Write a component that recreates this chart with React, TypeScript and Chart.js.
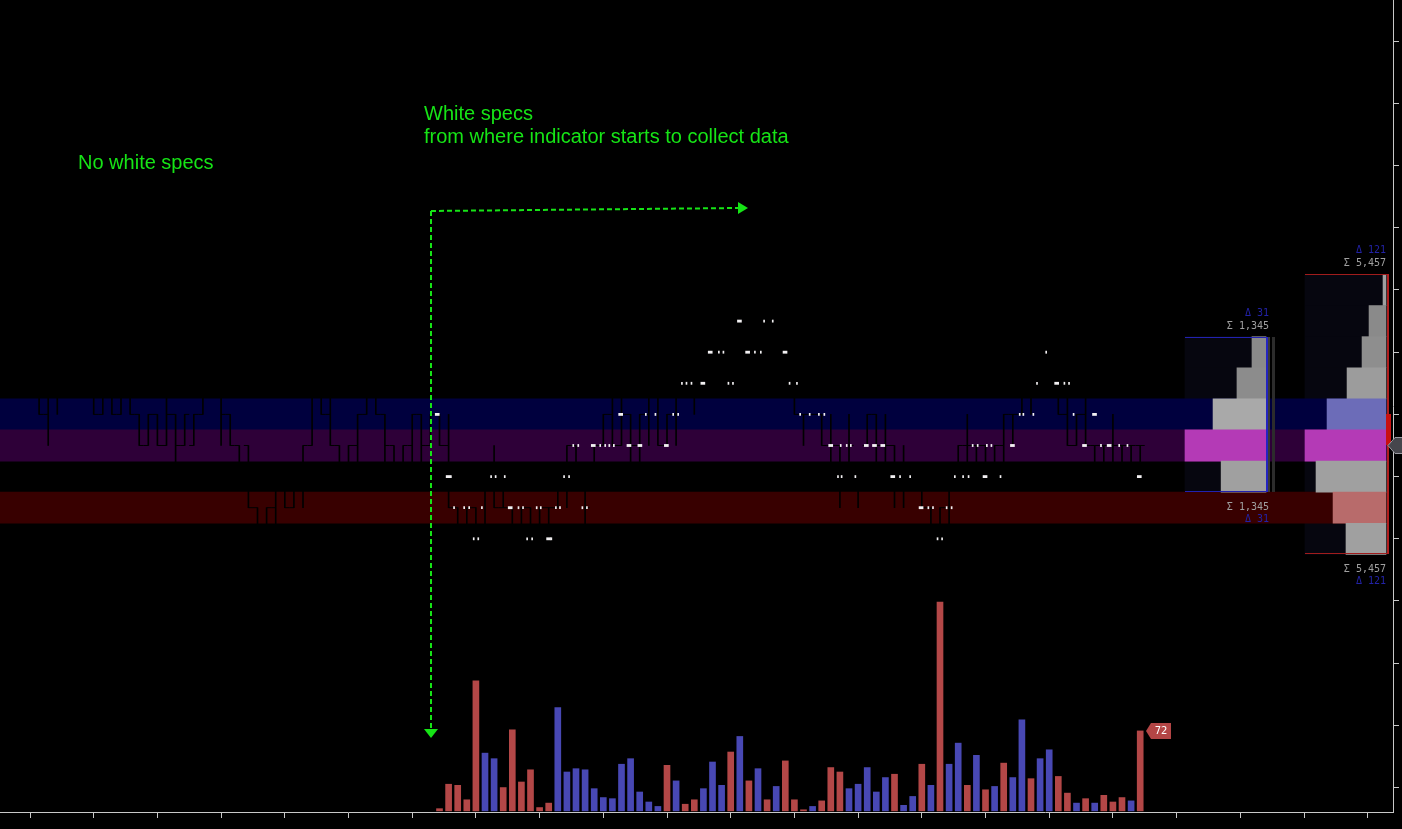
import React, { useEffect, useRef } from 'react';
import { Chart, registerables } from 'chart.js';

Chart.register(...registerables);

const W = 1402;
const H = 829;

// ---- time axis (bar slots) ----
const X_MIN = -3.297;
const X_MAX = 149.78;
const X_TICKS = [0, 7, 14, 21, 28, 35, 42, 49, 56, 63, 70, 77, 84, 91, 98, 105, 112, 119, 126, 133, 140, 147];

// ---- price axis (price rows, 0 = POC row) ----
const Y_MIN = -11.785;
const Y_MAX = 14.325;
const Y_TICKS = [-11, -9, -7, -5, -3, -1, 1, 3, 5, 7, 9, 11, 13];

// ---- price bars (OHLC, in price rows), first bar at slot 1 ----
const BAR_START = 1;
const HIGH = [
  3, 3, 3, 3, 3, 3, 2, 2, 2, 2,
  2, 1, 1, 1, 2, 1, 1, 1, 2, 3,
  2, 1, 0, 0, -2, -2, -1, -1, -1, 0,
  2, 2, 2, 0, 0, 1, 2, 2, 1, 0,
  0, 1, 1, 1, 1, 1, -2, -2, -2, -1,
  0, -1, -2, -2, -2, -2, -2, -1, 0, 0,
  -1, 0, 1, 2, 2, 1, 1, 2, 2, 1,
  2, 3, 2, 3, 3, 3, 4, 4, 3, 4,
  4, 3, 3, 2, 1, 1, 1, 1, 0, 1,
  -1, 1, 1, 1, 0, 0, -1, -1, -2, -2,
  -1, 0, 1, 0, 0, 0, 1, 1, 3, 3,
  3, 3, 2, 2, 1, 2, 0, 0, 1, 0,
  0, 0,
];
const LOW = [
  1, 0, 1, 2, 2, 2, 1, 1, 1, 1,
  1, 0, 0, 0, 0, -1, 0, 0, 1, 2,
  0, 0, -1, -2, -3, -3, -3, -2, -2, -2,
  0, 1, 0, -1, -1, -1, 1, 1, -1, -1,
  -1, -1, -1, 0, 0, -2, -3, -3, -3, -3,
  -2, -2, -3, -3, -3, -3, -3, -2, -2, -1,
  -3, -1, 0, 0, 0, -1, -1, 0, 0, 0,
  0, 2, 1, 2, 2, 2, 3, 3, 2, 3,
  3, 2, 2, 1, 0, 1, 0, -1, -2, -1,
  -2, 0, -1, -1, -2, -2, -1, -2, -3, -3,
  -3, -1, -1, -1, -1, -1, -1, 0, 1, 1,
  2, 2, 1, 0, 0, 0, -1, -1, -1, -1,
  -1, -1,
];
const OPEN = [
  2, 1, 2, 2, 3, 2, 2, 1, 2, 1,
  2, 1, 0, 1, 0, 1, 0, 0, 1, 2,
  2, 1, 0, 0, -2, -3, -2, -1, -2, -1,
  0, 2, 1, 0, -1, 0, 1, 2, 1, 0,
  -1, 0, 1, 0, 1, 0, -2, -3, -2, -3,
  -1, -2, -2, -3, -2, -3, -2, -2, -1, 0,
  -1, -1, 0, 1, 0, 1, 0, 1, 2, 0,
  1, 2, 2, 2, 3, 2, 3, 4, 3, 3,
  4, 3, 2, 2, 1, 1, 1, 0, 0, -1,
  -1, 0, 1, 0, 0, -1, -1, -1, -2, -3,
  -2, -1, 0, 0, 0, -1, 0, 1, 1, 2,
  3, 2, 2, 1, 0, 1, 0, 0, 0, 0,
  0, 0,
];
const CLOSE = [
  1, 2, 2, 3, 2, 2, 1, 2, 1, 2,
  1, 0, 1, 0, 1, 0, 1, 1, 2, 2,
  1, 0, -1, -2, -3, -2, -1, -2, -1, 0,
  2, 1, 0, -1, 0, 1, 2, 1, 0, -1,
  0, 1, 0, 1, 0, -2, -3, -2, -3, -1,
  -2, -2, -3, -2, -3, -2, -2, -1, 0, -1,
  -2, 0, 1, 0, 1, 0, 1, 2, 0, 1,
  2, 3, 2, 3, 2, 3, 4, 3, 3, 4,
  3, 2, 2, 1, 1, 1, 0, 0, -1, 0,
  -1, 1, 0, 0, -1, -1, -1, -2, -3, -2,
  -1, 0, 0, 0, -1, 0, 1, 1, 2, 3,
  2, 2, 1, 0, 1, 0, 0, 0, 0, 0,
  0, 0,
];

// ---- white specs [slot, price row] ----
const SPECS_WIDE = [
  [44.75, 1], [45.95, -1], [52.77, -2], [56.99, -3], [61.9, 0], [64.91, 1], [65.82, 0], [67.02, 0],
  [69.93, 0], [73.94, 2], [74.75, 3], [77.96, 4], [78.86, 3], [82.97, 3], [87.99, 0], [91.9, 0],
  [92.8, 0], [93.71, 0], [94.81, -1], [97.92, -2], [104.95, -1], [107.96, 0], [112.82, 2],
  [115.88, 0], [116.98, 1], [118.59, 0], [121.9, -1],
];
const SPECS_THIN = [
  [46.25, -1], [50.67, -1], [51.17, -1], [52.17, -1], [58.69, -1], [59.24, -1], [88.79, -1], [89.19, -1],
  [90.7, -1], [95.61, -1], [96.72, -1], [101.63, -1], [102.54, -1], [103.14, -1], [106.65, -1],
  [46.6, -2], [47.71, -2], [48.26, -2], [49.66, -2], [53.68, -2], [54.18, -2], [55.68, -2], [56.13, -2],
  [57.79, -2], [58.24, -2], [60.7, -2], [61.2, -2], [98.72, -2], [99.23, -2], [100.73, -2], [101.28, -2],
  [48.76, -3], [49.26, -3], [54.63, -3], [55.18, -3], [57.29, -3], [99.73, -3], [100.23, -3],
  [59.7, 0], [60.25, 0], [62.66, 0], [63.21, 0], [63.66, 0], [64.16, 0], [89.09, 0], [89.75, 0],
  [90.2, 0], [103.59, 0], [104.14, 0], [105.15, 0], [105.65, 0], [117.69, 0], [119.69, 0], [120.6, 0],
  [67.67, 1], [68.73, 1], [70.68, 1], [71.23, 1], [84.63, 1], [85.68, 1], [86.69, 1], [87.29, 1],
  [108.76, 1], [109.16, 1], [110.26, 1], [114.68, 1],
  [71.64, 2], [72.14, 2], [72.69, 2], [76.75, 2], [77.25, 2], [83.47, 2], [84.28, 2], [110.66, 2],
  [113.67, 2], [114.18, 2],
  [75.7, 3], [76.2, 3], [79.66, 3], [80.31, 3], [111.67, 3],
  [80.67, 4], [81.62, 4],
];

// ---- volume histogram, first bar at slot 45 ----
const VOL_START = 45;
const VOLUME = [
  2, 24, 23, 10, 117, 52, 47, 21, 73, 26, 37, 3, 7, 93, 35, 38, 37, 20, 12, 11,
  42, 47, 17, 8, 4, 41, 27, 6, 10, 20, 44, 23, 53, 67, 27, 38, 10, 22, 45, 10,
  1, 4, 9, 39, 35, 20, 24, 39, 17, 30, 33, 5, 13, 42, 23, 188, 42, 61, 23, 50,
  19, 22, 43, 30, 82, 29, 47, 55, 31, 16, 7, 11, 7, 14, 8, 12, 9, 72,
];
const VOL_SIDE = 'rrrrrbbrrrrrrbbbbbbbbbbbbrbrrbbbrbrbrbrrrbrrrbbbbbrbbrbrbbrbrbrbbrbbrrbrbrrrbr'.split('');

// ---- horizontal bands (VAH / POC / VAL) ----
const BAND_LEVELS = [1, 0, -2];
const BAND_COLORS = ['#00003e', '#2e0038', '#380000'];
const BAND_END = 149.0;

// ---- volume profiles ----
const BIG_LEVELS = [5, 4, 3, 2, 1, 0, -1, -2, -3];
const BIG_VOL = [42, 240, 339, 551, 834, 1146, 990, 749, 566];
const BIG_COLORS = ['#a0a0a0', '#8a8a8a', '#8e8e8e', '#9c9c9c', '#6c6cb8', '#b43ab6', '#a0a0a0', '#b86b6b', '#a0a0a0'];
const BIG_SUM = '5,457';
const BIG_DELTA = '121';

const SMALL_LEVELS = [3, 2, 1, 0, -1];
const SMALL_VOL = [85, 176, 321, 491, 272];
const SMALL_COLORS = ['#8a8a8a', '#8c8c8c', '#a9a9a9', '#b43ab6', '#a0a0a0'];
const SMALL_SUM = '1,345';
const SMALL_DELTA = '31';

// layout/style constants
const PLOT_W = 1393;
const BOX_PX = 81;
const BIG_GAP = 7;
const SMALL_GAP = 127;
const ROW_PX = 31.1;

const BIG_MAX = Math.max(...BIG_VOL);
const SMALL_MAX = Math.max(...SMALL_VOL);
const kBig = BIG_MAX / BOX_PX;
const kSmall = SMALL_MAX / BOX_PX;

const GREEN = 'rgb(22,228,22)';

const overlayPlugin = {
  id: 'overlay',
  afterDatasetsDraw(chart: any) {
    const { ctx } = chart;
    const sy = chart.scales.y;
    const sx = chart.scales.x;
    const sv = chart.scales.yv;
    const xb = chart.scales.xpBig;
    const xs = chart.scales.xpSmall;
    ctx.save();

    // big profile box
    const bL = Math.round(xb.getPixelForValue(BIG_MAX));
    const bR = Math.round(xb.getPixelForValue(0));
    const bT = Math.round(sy.getPixelForValue(Math.max(...BIG_LEVELS) + 0.5));
    const bB = Math.round(sy.getPixelForValue(Math.min(...BIG_LEVELS) - 0.5));
    ctx.strokeStyle = '#a01c1c';
    ctx.lineWidth = 1;
    ctx.beginPath();
    ctx.moveTo(bL, bT + 0.5);
    ctx.lineTo(bR + 3, bT + 0.5);
    ctx.moveTo(bL, bB - 0.5);
    ctx.lineTo(bR + 3, bB - 0.5);
    ctx.stroke();
    ctx.fillStyle = '#b01e1e';
    ctx.fillRect(bR + 1, bT, 2, bB - bT);
    // current bar marker
    ctx.fillStyle = '#c81010';
    ctx.fillRect(bR, Math.round(sy.getPixelForValue(1)), 5, Math.round(sy.getPixelForValue(0) - sy.getPixelForValue(1)));

    // small profile box
    const sL = Math.round(xs.getPixelForValue(SMALL_MAX));
    const sR = Math.round(xs.getPixelForValue(0));
    const sT = Math.round(sy.getPixelForValue(Math.max(...SMALL_LEVELS) + 0.5));
    const sB = Math.round(sy.getPixelForValue(Math.min(...SMALL_LEVELS) - 0.5));
    ctx.fillStyle = '#3a3a3a';
    ctx.fillRect(sR + 2, sT, 2, sB - sT);
    ctx.fillStyle = '#2c2c2c';
    ctx.fillRect(sR + 6, sT, 3, sB - sT);
    ctx.strokeStyle = '#2222b0';
    ctx.beginPath();
    ctx.moveTo(sL, sT + 0.5);
    ctx.lineTo(sR + 1, sT + 0.5);
    ctx.moveTo(sL, sB - 0.5);
    ctx.lineTo(sR + 1, sB - 0.5);
    ctx.stroke();
    ctx.fillStyle = '#2424c0';
    ctx.fillRect(sR, sT, 2, sB - sT);

    // labels
    ctx.font = '10px "DejaVu Sans Mono", monospace';
    ctx.textAlign = 'right';
    ctx.textBaseline = 'alphabetic';
    const lab = (x: number, top: number, bottom: number, sum: string, delta: string) => {
      ctx.fillStyle = '#2222a6';
      ctx.fillText('Δ ' + delta, x, top - 21);
      ctx.fillStyle = '#a0a0a0';
      ctx.fillText('Σ ' + sum, x, top - 8);
      ctx.fillText('Σ ' + sum, x, bottom + 18);
      ctx.fillStyle = '#2222a6';
      ctx.fillText('Δ ' + delta, x, bottom + 30);
    };
    lab(bR, bT, bB, BIG_SUM, BIG_DELTA);
    lab(sR + 3, sT, sB, SMALL_SUM, SMALL_DELTA);

    // current price tag on the price axis
    const py = Math.round(sy.getPixelForValue(0)) + 0.5;
    const ax = bR + 2;
    ctx.beginPath();
    ctx.moveTo(ax, py);
    ctx.lineTo(ax + 7, py - 8);
    ctx.lineTo(W + 2, py - 8);
    ctx.lineTo(W + 2, py + 8);
    ctx.lineTo(ax + 7, py + 8);
    ctx.closePath();
    ctx.fillStyle = '#46464c';
    ctx.fill();
    ctx.strokeStyle = '#9a9aa2';
    ctx.stroke();

    // last volume value tag
    const lastIdx = VOLUME.length - 1;
    const lastVal = VOLUME[lastIdx];
    const tx = Math.round(sx.getPixelForValue(VOL_START + lastIdx)) + 6;
    const ty = Math.round(sv.getPixelForValue(lastVal));
    ctx.beginPath();
    ctx.moveTo(tx, ty);
    ctx.lineTo(tx + 5, ty - 8);
    ctx.lineTo(tx + 25, ty - 8);
    ctx.lineTo(tx + 25, ty + 8);
    ctx.lineTo(tx + 5, ty + 8);
    ctx.closePath();
    ctx.fillStyle = '#b34545';
    ctx.fill();
    ctx.fillStyle = '#ffffff';
    ctx.font = '10px "DejaVu Sans", sans-serif';
    ctx.textAlign = 'center';
    ctx.textBaseline = 'middle';
    ctx.fillText(String(lastVal), tx + 15, ty + 0.5);

    ctx.restore();
  },
};

function buildConfig(): any {
  const hbar = (extra: any) => ({
    type: 'bar',
    indexAxis: 'y',
    yAxisID: 'y',
    grouped: false,
    borderWidth: 0,
    barThickness: ROW_PX,
    ...extra,
  });
  const vbar = (extra: any) => ({
    type: 'bar',
    indexAxis: 'x',
    xAxisID: 'x',
    grouped: false,
    borderWidth: 0,
    ...extra,
  });
  const tick = (vals: number[], off: number, order: number) => ({
    type: 'scatter',
    xAxisID: 'x',
    yAxisID: 'y',
    data: vals.map((v, i) => ({ x: BAR_START + i + off, y: v })),
    showLine: false,
    pointStyle: 'line',
    pointRadius: 2.3,
    pointBorderWidth: 1,
    pointBorderColor: '#000000',
    pointBackgroundColor: '#000000',
    order,
  });

  const datasets: any[] = [
    hbar({
      xAxisID: 'xpBig',
      data: BIG_LEVELS.map((l) => ({ y: l, x: [0, BIG_MAX] })),
      backgroundColor: '#06060f',
      order: 30,
    }),
    hbar({
      xAxisID: 'xpSmall',
      data: SMALL_LEVELS.map((l) => ({ y: l, x: [0, SMALL_MAX] })),
      backgroundColor: '#06060f',
      order: 30,
    }),
    hbar({
      xAxisID: 'x',
      data: BAND_LEVELS.map((l) => ({ y: l, x: [X_MIN, BAND_END] })),
      backgroundColor: BAND_COLORS,
      order: 29,
    }),
    hbar({
      xAxisID: 'xpBig',
      data: BIG_LEVELS.map((l, i) => ({ y: l, x: [0, BIG_VOL[i]] })),
      backgroundColor: BIG_COLORS,
      order: 28,
    }),
    hbar({
      xAxisID: 'xpSmall',
      data: SMALL_LEVELS.map((l, i) => ({ y: l, x: [0, SMALL_VOL[i]] })),
      backgroundColor: SMALL_COLORS,
      order: 28,
    }),
    vbar({
      yAxisID: 'y',
      data: HIGH.map((h, i) => ({ x: BAR_START + i, y: [LOW[i], h] })),
      backgroundColor: '#000000',
      barThickness: 1,
      order: 20,
    }),
    tick(OPEN, -0.25, 19),
    tick(CLOSE, 0.25, 19),
    vbar({
      yAxisID: 'y',
      data: SPECS_WIDE.map(([s, v]) => ({ x: s, y: [v - 0.035, v + 0.035] })),
      backgroundColor: '#f2f0f2',
      barThickness: 4,
      order: 15,
    }),
    vbar({
      yAxisID: 'y',
      data: SPECS_THIN.map(([s, v]) => ({ x: s, y: [v - 0.035, v + 0.035] })),
      backgroundColor: '#f2f0f2',
      barThickness: 1,
      order: 15,
    }),
    vbar({
      yAxisID: 'yv',
      data: VOLUME.map((v, i) => ({ x: VOL_START + i, y: v })),
      backgroundColor: VOL_SIDE.map((c) => (c === 'r' ? '#b34747' : '#4848b4')),
      barThickness: 6,
      order: 10,
    }),
  ];

  const axisColor = '#c8c8c8';
  return {
    type: 'bar',
    data: { datasets },
    options: {
      responsive: false,
      animation: false,
      devicePixelRatio: 1,
      events: [],
      layout: { padding: 0, autoPadding: false },
      plugins: { legend: { display: false }, tooltip: { enabled: false }, title: { display: false } },
      scales: {
        x: {
          type: 'linear',
          axis: 'x',
          position: 'bottom',
          min: X_MIN,
          max: X_MAX,
          offset: false,
          grid: { display: true, offset: false, drawOnChartArea: false, drawTicks: true, tickLength: 6, color: axisColor },
          border: { display: true, color: axisColor, width: 1 },
          ticks: { display: false },
          afterBuildTicks: (axis: any) => {
            axis.ticks = X_TICKS.map((v) => ({ value: v }));
          },
          afterFit: (s: any) => {
            s.height = H - 812;
          },
        },
        y: {
          type: 'linear',
          axis: 'y',
          position: 'right',
          min: Y_MIN,
          max: Y_MAX,
          offset: false,
          beginAtZero: false,
          grid: { display: true, offset: false, drawOnChartArea: false, drawTicks: true, tickLength: 6, color: axisColor },
          border: { display: true, color: axisColor, width: 1 },
          ticks: { display: false },
          afterBuildTicks: (axis: any) => {
            axis.ticks = Y_TICKS.map((v) => ({ value: v }));
          },
          afterFit: (s: any) => {
            s.width = W - PLOT_W;
          },
        },
        yv: {
          type: 'linear',
          axis: 'y',
          position: 'left',
          display: false,
          offset: false,
          min: -1,
          max: 730,
          grid: { offset: false },
        },
        xpBig: {
          type: 'linear',
          axis: 'x',
          position: 'bottom',
          display: false,
          reverse: true,
          offset: false,
          min: -BIG_GAP * kBig,
          max: (PLOT_W - BIG_GAP) * kBig,
          grid: { offset: false },
        },
        xpSmall: {
          type: 'linear',
          axis: 'x',
          position: 'bottom',
          display: false,
          reverse: true,
          offset: false,
          min: -SMALL_GAP * kSmall,
          max: (PLOT_W - SMALL_GAP) * kSmall,
          grid: { offset: false },
        },
      },
    },
    plugins: [overlayPlugin],
  };
}

const textStyle: React.CSSProperties = {
  position: 'absolute',
  color: GREEN,
  font: '20px "Liberation Sans", Arial, sans-serif',
  lineHeight: '23px',
  whiteSpace: 'nowrap',
  margin: 0,
};

export default function App() {
  const ref = useRef<HTMLCanvasElement>(null);
  useEffect(() => {
    document.body.style.margin = '0';
    document.body.style.background = '#000';
    const chart = new Chart(ref.current as HTMLCanvasElement, buildConfig());
    return () => chart.destroy();
  }, []);

  return (
    <div style={{ position: 'relative', width: W, height: H, background: '#000', overflow: 'hidden' }}>
      <canvas ref={ref} width={W} height={H} style={{ display: 'block', width: W, height: H }} />
      <svg
        width={W}
        height={H}
        style={{ position: 'absolute', left: 0, top: 0, pointerEvents: 'none' }}
      >
        <path d="M431 211 L739 208" stroke={GREEN} strokeWidth={2} strokeDasharray="5 3" fill="none" />
        <polygon points="738,202 748,208 738,214" fill={GREEN} />
        <path d="M431 211 L431 729" stroke={GREEN} strokeWidth={2} strokeDasharray="5 3" fill="none" />
        <polygon points="424,729 438,729 431,738" fill={GREEN} />
      </svg>
      <div style={{ ...textStyle, left: 78, top: 151 }}>No white specs</div>
      <div style={{ ...textStyle, left: 424, top: 102 }}>
        White specs
        <br />
        from where indicator starts to collect data
      </div>
    </div>
  );
}
